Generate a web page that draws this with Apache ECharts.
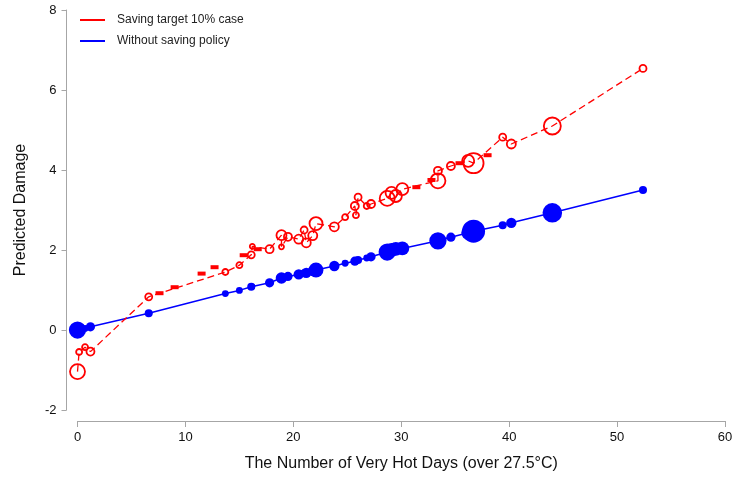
<!DOCTYPE html>
<html>
<head>
<meta charset="utf-8">
<script src="https://cdn.jsdelivr.net/npm/echarts@6/dist/echarts.min.js"></script>
<style>
  html, body { margin: 0; padding: 0; background: #fff; }
  #chart { width: 737px; height: 478px; }
</style>
</head>
<body>
<div id="chart"></div>
<script>
// observations, sorted by number of very hot days
const hotDays = [0.0, 0.15, 0.7, 1.2, 6.6, 13.7, 15.0, 16.1, 16.2, 17.8, 18.9, 18.9, 19.5, 20.5, 21.0, 21.2, 21.8, 22.1, 23.8, 24.8, 25.7, 25.8, 26.0, 26.8, 27.2, 28.7, 29.1, 29.5, 30.1, 33.4, 33.4, 34.6, 36.2, 36.7, 39.4, 40.2, 44.0, 52.4];
const markerSize = [15, 6, 6, 8, 7, 6, 6, 7, 5, 8, 10, 5, 8, 9, 7, 9, 9, 13, 9, 6, 8, 6, 7, 6, 8, 15, 12, 12, 12, 15, 8, 8, 12, 20, 7, 9, 17, 7];
const savingTarget = [-1.04, -0.55, -0.43, -0.54, 0.83, 1.45, 1.62, 1.88, 2.09, 2.02, 2.37, 2.08, 2.33, 2.27, 2.50, 2.18, 2.36, 2.66, 2.58, 2.82, 3.10, 2.87, 3.32, 3.10, 3.15, 3.29, 3.43, 3.35, 3.52, 3.73, 3.98, 4.10, 4.23, 4.17, 4.82, 4.65, 5.10, 6.54];
const noPolicy = [0.00, 0.01, 0.04, 0.08, 0.42, 0.91, 0.99, 1.08, 1.09, 1.18, 1.30, 1.31, 1.34, 1.39, 1.42, 1.43, 1.48, 1.50, 1.60, 1.67, 1.72, 1.73, 1.75, 1.80, 1.83, 1.95, 2.00, 2.03, 2.04, 2.23, 2.24, 2.32, 2.43, 2.47, 2.62, 2.68, 2.93, 3.50];

// thick spots on the dashed line (overlapping tiny observations)
const thickX = [7.6, 9.0, 11.5, 12.7, 15.4, 16.7, 31.4, 32.8, 35.4, 38.0];
const thickY = [0.92, 1.07, 1.41, 1.57, 1.87, 2.02, 3.57, 3.75, 4.17, 4.37];

const xTicks = [0, 10, 20, 30, 40, 50, 60];
const yTicks = [-2, 0, 2, 4, 6, 8];

const RED = "#ff0000";
const BLUE = "#0000ff";
const FONT = "Liberation Sans, Arial, sans-serif";

const chart = echarts.init(document.getElementById("chart"));

const redLine = hotDays.map((x, i) => [x, savingTarget[i]]);
const blueLine = hotDays.map((x, i) => [x, noPolicy[i]]);
const redPts = hotDays.map((x, i) => [x, savingTarget[i], markerSize[i]]);
const bluePts = hotDays.map((x, i) => [x, noPolicy[i], markerSize[i]]);
const thickPts = thickX.map((x, i) => [x, thickY[i]]);

chart.setOption({
  animation: false,
  grid: { left: 77.5, right: 12, top: 10, bottom: 68 },
  legend: {
    data: ["Saving target 10% case", "Without saving policy"],
    orient: "vertical",
    left: 75,
    top: 8,
    icon: "rect",
    itemWidth: 25,
    itemHeight: 2,
    itemGap: 7,
    textStyle: { fontFamily: FONT, fontSize: 12, color: "#222", padding: [0, 0, 0, 7], lineHeight: 14 },
  },
  xAxis: {
    type: "value",
    min: xTicks[0],
    max: xTicks[xTicks.length - 1],
    interval: 10,
    offset: 11,
    name: "The Number of Very Hot Days (over 27.5°C)",
    nameLocation: "middle",
    nameGap: 35,
    nameTextStyle: { fontFamily: FONT, fontSize: 16, color: "#111" },
    splitLine: { show: false },
    axisLine: { show: true, onZero: false, lineStyle: { color: "#a6a6a6", width: 1 } },
    axisTick: { show: true, length: 6, lineStyle: { color: "#a6a6a6" } },
    axisLabel: { margin: 10, fontFamily: FONT, fontSize: 13, color: "#111" },
  },
  yAxis: {
    type: "value",
    min: yTicks[0],
    max: yTicks[yTicks.length - 1],
    interval: 2,
    offset: 11,
    name: "Predicted Damage",
    nameLocation: "middle",
    nameGap: 38,
    nameTextStyle: { fontFamily: FONT, fontSize: 16, color: "#111" },
    splitLine: { show: false },
    axisLine: { show: true, onZero: false, lineStyle: { color: "#a6a6a6", width: 1 } },
    axisTick: { show: true, length: 5, lineStyle: { color: "#a6a6a6" } },
    axisLabel: { margin: 10, fontFamily: FONT, fontSize: 13, color: "#111" },
  },
  series: [
    {
      name: "Without saving policy",
      type: "line",
      data: blueLine,
      symbol: "none",
      lineStyle: { color: BLUE, width: 1.5 },
      itemStyle: { color: BLUE },
      z: 2,
    },
    {
      name: "blueMarkers",
      type: "scatter",
      data: bluePts,
      symbol: "circle",
      symbolSize: (v) => v[2] * 1.15,
      itemStyle: { color: BLUE, opacity: 1 },
      z: 3,
    },
    {
      name: "Saving target 10% case",
      type: "line",
      data: redLine,
      symbol: "none",
      lineStyle: { color: RED, width: 1.3, type: [7, 4] },
      itemStyle: { color: RED },
      z: 4,
    },
    {
      name: "redThick",
      type: "scatter",
      data: thickPts,
      symbol: "rect",
      symbolSize: [8, 4],
      itemStyle: { color: RED, opacity: 1 },
      z: 4,
    },
    {
      name: "redMarkers",
      type: "scatter",
      data: redPts,
      symbol: "circle",
      symbolSize: (v) => v[2],
      itemStyle: { color: "rgba(0,0,0,0)", borderColor: RED, borderWidth: 1.8, opacity: 1 },
      z: 5,
    },
  ],
});
</script>
</body>
</html>
